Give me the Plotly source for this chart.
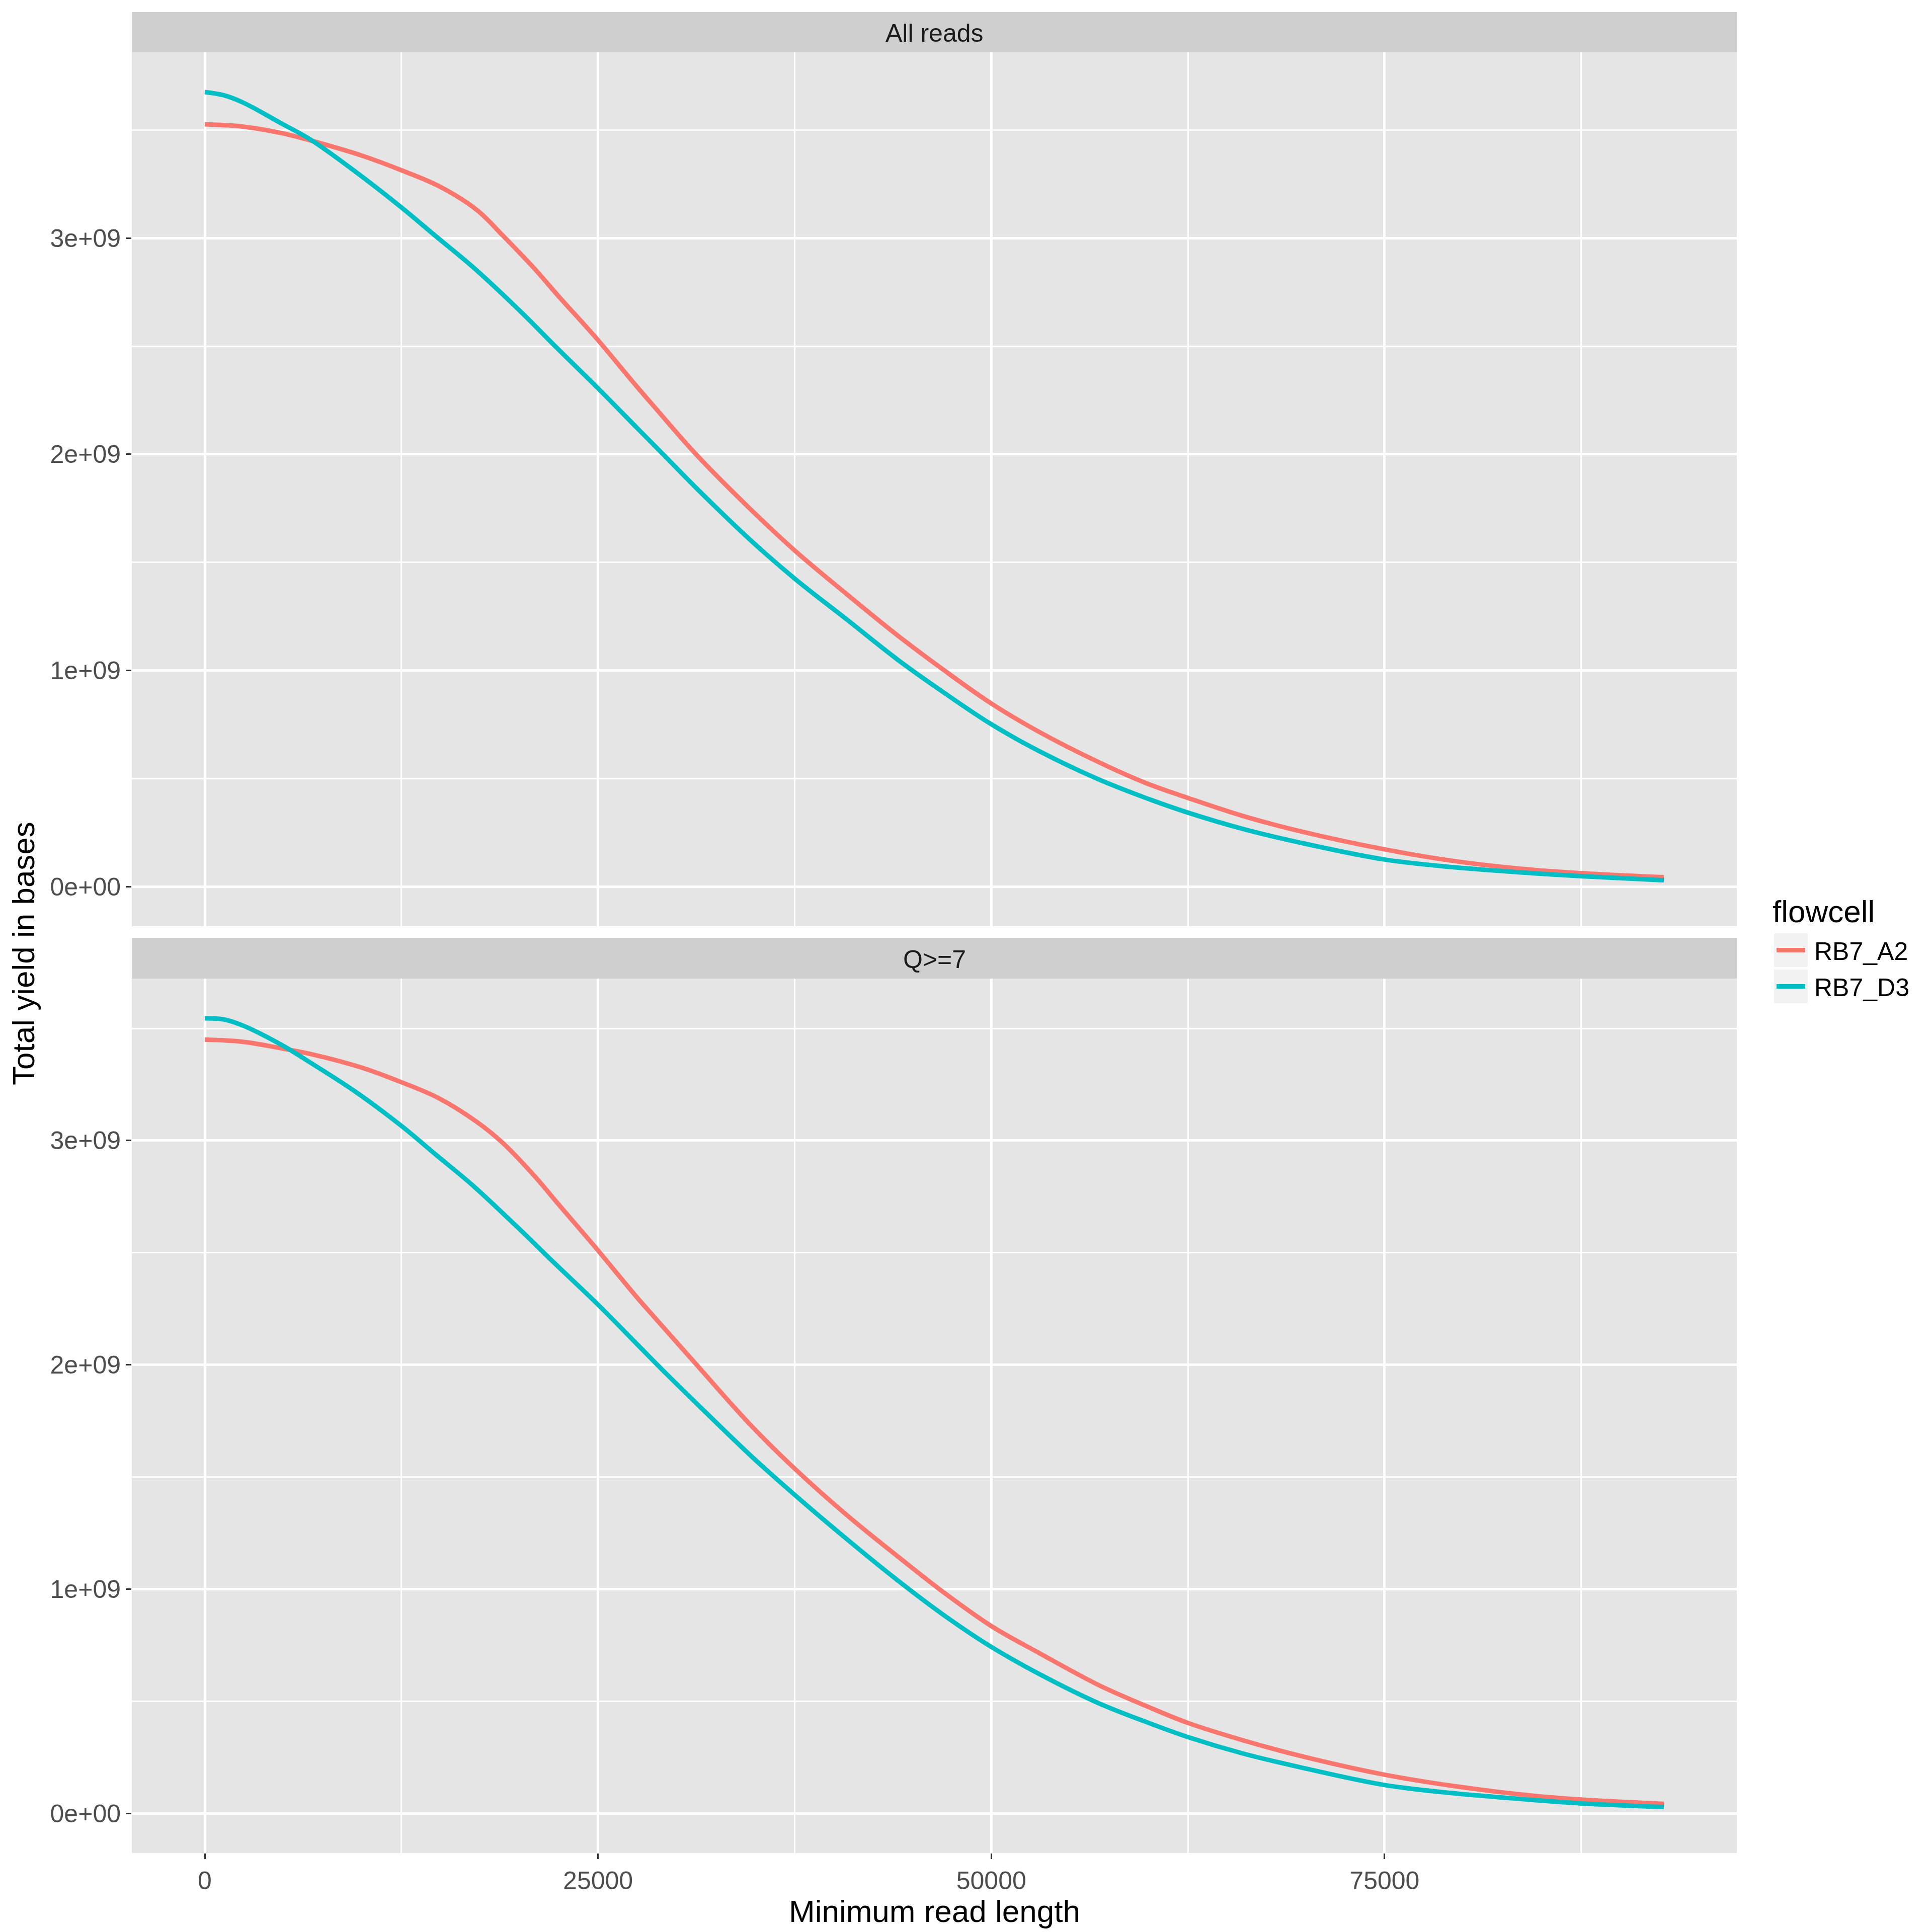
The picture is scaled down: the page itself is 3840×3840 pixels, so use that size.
import plotly.graph_objects as go

# ---------------- data ----------------
facets = ["All reads", "Q>=7"]
flowcells = ["RB7_A2", "RB7_D3"]
colors = ["#F8766D", "#00BFC4"]

all_a2_len = [0, 1222, 2445, 4890, 6724, 9984, 12470, 14873, 17319, 18949, 20986,
              22412, 24246, 25000, 27506, 28576, 31231, 34703, 37500, 40828, 44096,
              46954, 50000, 53083, 56758, 59858, 62500, 65973, 69643, 75000, 79427,
              84319, 87500, 92757]
all_a2_yield = [3.527e9, 3.523e9, 3.516e9, 3.486e9, 3.452e9, 3.382e9, 3.315e9, 3.241e9,
                3.129e9, 3.012e9, 2.857e9, 2.738e9, 2.590e9, 2.528e9, 2.310e9, 2.220e9,
                2.000e9, 1.745e9, 1.555e9, 1.352e9, 1.159e9, 1.003e9, 0.847e9, 0.714e9,
                0.578e9, 0.478e9, 0.410e9, 0.327e9, 0.256e9, 0.172e9, 0.118e9, 0.078e9,
                0.062e9, 0.043e9]

all_d3_len = [0, 1222, 2445, 4890, 6724, 9576, 12470, 14670, 17115, 20171, 22208,
              25000, 27506, 29340, 31231, 34703, 37500, 40828, 44096, 46954, 50000,
              53083, 56758, 59858, 62500, 65973, 69643, 75000, 79427, 84319, 87500,
              92757]
all_d3_yield = [3.676e9, 3.661e9, 3.627e9, 3.530e9, 3.456e9, 3.308e9, 3.144e9, 3.010e9,
                2.862e9, 2.654e9, 2.505e9, 2.305e9, 2.120e9, 1.985e9, 1.845e9, 1.602e9,
                1.425e9, 1.235e9, 1.047e9, 0.899e9, 0.751e9, 0.625e9, 0.498e9, 0.409e9,
                0.342e9, 0.267e9, 0.203e9, 0.125e9, 0.089e9, 0.062e9, 0.048e9, 0.029e9]

q7_a2_len = [0, 2445, 4890, 6724, 9984, 12470, 14873, 17319, 18949, 20986, 22412,
             24246, 25000, 27506, 28576, 31231, 34703, 37500, 40828, 44096, 46954,
             50000, 53083, 56758, 59858, 62500, 65973, 69643, 75000, 79427, 84319,
             87500, 92757]
q7_a2_yield = [3.450e9, 3.440e9, 3.411e9, 3.386e9, 3.325e9, 3.261e9, 3.189e9, 3.082e9,
               2.989e9, 2.840e9, 2.722e9, 2.572e9, 2.510e9, 2.298e9, 2.213e9, 2.003e9,
               1.731e9, 1.537e9, 1.329e9, 1.143e9, 0.986e9, 0.835e9, 0.713e9, 0.574e9,
               0.478e9, 0.403e9, 0.326e9, 0.256e9, 0.172e9, 0.121e9, 0.079e9, 0.061e9,
               0.042e9]

q7_d3_len = [0, 1222, 2445, 4890, 6724, 9576, 12470, 14670, 17115, 20171, 22208,
             25000, 27506, 29340, 31231, 34703, 37500, 40828, 44096, 46954, 50000,
             53083, 56758, 59858, 62500, 65973, 69643, 75000, 79427, 84319, 87500,
             92757]
q7_d3_yield = [3.545e9, 3.540e9, 3.512e9, 3.426e9, 3.347e9, 3.218e9, 3.067e9, 2.938e9,
               2.795e9, 2.594e9, 2.455e9, 2.268e9, 2.090e9, 1.960e9, 1.830e9, 1.595e9,
               1.420e9, 1.222e9, 1.036e9, 0.885e9, 0.742e9, 0.620e9, 0.493e9, 0.407e9,
               0.340e9, 0.267e9, 0.205e9, 0.126e9, 0.089e9, 0.060e9, 0.044e9, 0.028e9]

x_tickvals = [0, 25000, 50000, 75000]
x_ticktext = ["0", "25000", "50000", "75000"]
x_minor = [12500, 37500, 62500, 87500]
y_tickvals = [0, 1e9, 2e9, 3e9]
y_ticktext = ["0e+00", "1e+09", "2e+09", "3e+09"]
y_minor = [0.5e9, 1.5e9, 2.5e9, 3.5e9]

series = {
    "All reads": [(all_a2_len, all_a2_yield), (all_d3_len, all_d3_yield)],
    "Q>=7": [(q7_a2_len, q7_a2_yield), (q7_d3_len, q7_d3_yield)],
}

# ---------------- geometry ----------------
W = H = 3840
OFF = 8  # page offset of the figure inside the browser window


def px(v):
    return (v - OFF) / W


def py(v):
    return 1 - (v - OFF) / H


PANEL_L, PANEL_R = 262, 3452
PANELS = [(104, 1841), (1945, 3683)]
STRIPS = [(24, 104), (1864, 1945)]

FONT = "Liberation Sans, Arial, Helvetica, sans-serif"


def expand(lo, hi, mult=0.05):
    span = hi - lo
    return [lo - mult * span, hi + mult * span]


all_x = [v for f in facets for s in series[f] for v in s[0]]
x_range = expand(min(all_x), max(all_x))

fig = go.Figure()
for i, f in enumerate(facets):
    for j, fc in enumerate(flowcells):
        xs, ys = series[f][j]
        fig.add_trace(go.Scatter(
            x=xs, y=ys, mode="lines", name=fc, legendgroup=fc,
            showlegend=False,
            line=dict(color=colors[j], width=9, shape="spline", smoothing=1.0),
            xaxis="x" if i == 0 else "x2", yaxis="y" if i == 0 else "y2",
        ))

tickfont = dict(family=FONT, size=50, color="#4D4D4D")
grid_common = dict(showgrid=True, gridcolor="#FFFFFF", gridwidth=5, zeroline=False,
                   showline=False)

layout = dict(
    width=W, height=H, margin=dict(l=0, r=0, t=0, b=0),
    paper_bgcolor="#FFFFFF", plot_bgcolor="#E5E5E5",
    font=dict(family=FONT, color="#000000"),
    showlegend=False,
)

for i, f in enumerate(facets):
    ys_all = [v for s in series[f] for v in s[1]]
    y_range = expand(0, max(ys_all))
    top, bot = PANELS[i]
    xname = "xaxis" if i == 0 else "xaxis2"
    yname = "yaxis" if i == 0 else "yaxis2"
    is_bottom = (i == len(facets) - 1)
    layout[xname] = dict(
        domain=[px(PANEL_L), px(PANEL_R)], anchor="y" if i == 0 else "y2",
        range=x_range, tickmode="array", tickvals=x_tickvals, ticktext=x_ticktext,
        showticklabels=is_bottom, ticks="outside" if is_bottom else "",
        ticklen=11, tickwidth=3, tickcolor="#333333", tickfont=tickfont,
        minor=dict(tickmode="array", tickvals=x_minor, showgrid=True,
                   gridcolor="#FFFFFF", gridwidth=2.5, ticks=""),
        **grid_common,
    )
    layout[yname] = dict(
        domain=[py(bot), py(top)], anchor="x" if i == 0 else "x2",
        range=y_range, tickmode="array", tickvals=y_tickvals, ticktext=y_ticktext,
        ticks="outside", ticklen=11, tickwidth=3, tickcolor="#333333",
        tickfont=tickfont,
        minor=dict(tickmode="array", tickvals=y_minor, showgrid=True,
                   gridcolor="#FFFFFF", gridwidth=2.5, ticks=""),
        **grid_common,
    )

shapes = []
annotations = []
for i, f in enumerate(facets):
    s_top, s_bot = STRIPS[i]
    shapes.append(dict(type="rect", xref="paper", yref="paper",
                       x0=px(PANEL_L), x1=px(PANEL_R), y0=py(s_bot), y1=py(s_top),
                       fillcolor="#CFCFCF", line=dict(width=0), layer="below"))
    annotations.append(dict(text=f, xref="paper", yref="paper",
                            x=px((PANEL_L + PANEL_R) / 2), y=py((s_top + s_bot) / 2 + 2),
                            xanchor="center", yanchor="middle", showarrow=False,
                            font=dict(family=FONT, size=50, color="#1A1A1A")))

# x axis title
annotations.append(dict(text="Minimum read length", xref="paper", yref="paper",
                        x=px((PANEL_L + PANEL_R) / 2), y=py(3798),
                        xanchor="center", yanchor="middle", showarrow=False,
                        font=dict(family=FONT, size=62, color="#000000")))

# y axis title (shared across facets)
annotations.append(dict(text="Total yield in bases", xref="paper", yref="paper",
                        x=px(46), y=py(1895), xanchor="center", yanchor="middle",
                        textangle=-90, showarrow=False,
                        font=dict(family=FONT, size=62, color="#000000")))

# legend (drawn as a guide box)
annotations.append(dict(text="flowcell", xref="paper", yref="paper",
                        x=px(3521), y=py(1812), xanchor="left", yanchor="middle",
                        showarrow=False, font=dict(family=FONT, size=62, color="#000000")))
key_tops = [1855, 1927]
for j, fc in enumerate(flowcells):
    kt = key_tops[j]
    shapes.append(dict(type="rect", xref="paper", yref="paper",
                       x0=px(3526), x1=px(3593), y0=py(kt + 67), y1=py(kt),
                       fillcolor="#F2F2F2", line=dict(width=0)))
    shapes.append(dict(type="line", xref="paper", yref="paper",
                       x0=px(3531), x1=px(3588), y0=py(kt + 33.5), y1=py(kt + 33.5),
                       line=dict(color=colors[j], width=9)))
    annotations.append(dict(text=fc, xref="paper", yref="paper",
                            x=px(3604), y=py(kt + 36), xanchor="left", yanchor="middle",
                            showarrow=False,
                            font=dict(family=FONT, size=50, color="#000000")))

layout["shapes"] = shapes
layout["annotations"] = annotations
fig.update_layout(**layout)
fig.write_html("out.html")
